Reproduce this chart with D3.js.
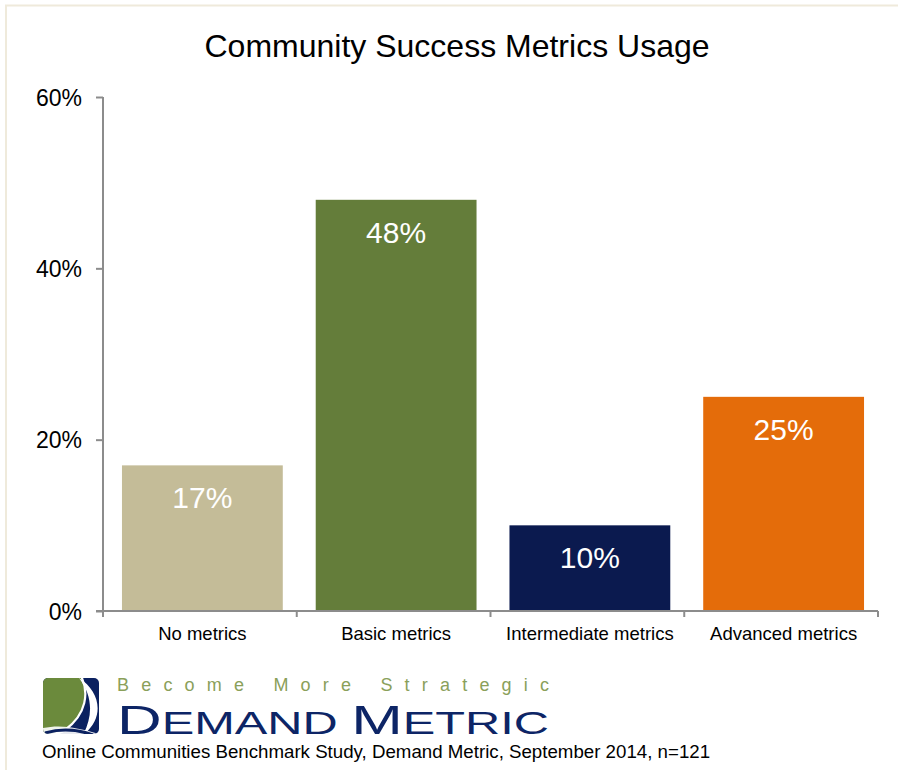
<!DOCTYPE html>
<html>
<head>
<meta charset="utf-8">
<script src="https://cdn.jsdelivr.net/npm/d3@7"></script>
<style>
  html, body { margin: 0; padding: 0; background: #ffffff; }
  svg { display: block; }
  text { font-family: "Liberation Sans", Arial, sans-serif; }
</style>
</head>
<body>
<script>
// Chart data
const categories = ["No metrics", "Basic metrics", "Intermediate metrics", "Advanced metrics"];
const values = [17, 48, 10, 25];
const barColors = ["#c4bc98", "#647d3a", "#0b1a4f", "#e46c0a"];
const yTicks = [0, 20, 40, 60];
const title = "Community Success Metrics Usage";
const tagline = "Become More Strategic";
const sourceNote = "Online Communities Benchmark Study, Demand Metric, September 2014, n=121";

const W = 898, H = 770;
const svg = d3.select("body").append("svg").attr("width", W).attr("height", H);

// Slide frame
svg.append("rect").attr("x", 6).attr("y", 5.5).attr("width", W).attr("height", H)
  .attr("fill", "none").attr("stroke", "#efeadb").attr("stroke-width", 2);

// Plot area
const plot = { left: 103, right: 878, top: 97, bottom: 611 };

// Bars sit slightly right of the band centre
const x = d3.scaleBand().domain(categories).range([plot.left + 2.5, plot.right + 2.5])
  .paddingInner(0.17).paddingOuter(0.085);
const y = d3.scaleLinear().domain([0, 60]).range([plot.bottom, plot.top]);

// Title
svg.append("text").attr("x", 457).attr("y", 57).attr("text-anchor", "middle")
  .attr("font-size", 32).attr("fill", "#000").text(title);

// Bars
svg.append("g").selectAll("rect").data(values).join("rect")
  .attr("x", (d, i) => x(categories[i]))
  .attr("y", d => y(d))
  .attr("width", x.bandwidth())
  .attr("height", d => y(0) - y(d))
  .attr("fill", (d, i) => barColors[i]);

// Value labels inside bars
svg.append("g").selectAll("text").data(values).join("text")
  .attr("x", (d, i) => x(categories[i]) + x.bandwidth() / 2)
  .attr("y", d => y(d) + 43)
  .attr("text-anchor", "middle")
  .attr("font-size", 30).attr("fill", "#ffffff")
  .text(d => d + "%");

// Y axis
const yAxis = d3.axisLeft(y).tickValues(yTicks).tickSize(7).tickPadding(14)
  .tickFormat(d => d + "%");
const gy = svg.append("g").attr("transform", `translate(${plot.left},0)`).call(yAxis);
gy.select(".domain").attr("stroke", "#8c8c8c").attr("stroke-width", 2)
  .attr("d", `M0,${plot.top}V${plot.bottom + 1}`);
gy.selectAll(".tick line").attr("stroke", "#8c8c8c").attr("stroke-width", 2);
gy.selectAll(".tick text").attr("font-size", 23).attr("fill", "#000")
  .attr("font-family", "'Liberation Sans', Arial, sans-serif").attr("dy", "0.36em");

// X axis with tick marks at category boundaries
const gx = svg.append("g").attr("transform", `translate(0,${plot.bottom})`);
gx.append("path").attr("d", `M${plot.left - 7},0H${plot.right}`)
  .attr("stroke", "#8c8c8c").attr("stroke-width", 2).attr("fill", "none");
const boundaries = d3.range(categories.length + 1).map(i => plot.left + i * (plot.right - plot.left) / categories.length);
gx.selectAll("line.bound").data(boundaries).join("line").attr("class", "bound")
  .attr("x1", d => d).attr("x2", d => d).attr("y1", 0).attr("y2", 6)
  .attr("stroke", "#8c8c8c").attr("stroke-width", 2);
gx.selectAll("text").data(categories).join("text")
  .attr("x", d => x(d) + x.bandwidth() / 2)
  .attr("y", 29)
  .attr("text-anchor", "middle").attr("font-size", 18.5).attr("fill", "#000")
  .text(d => d);

// Logo mark
const logo = svg.append("g").attr("transform", "translate(43,678)");
const defs = svg.append("defs");
defs.append("clipPath").attr("id", "logoClip").append("rect")
  .attr("width", 56).attr("height", 56).attr("rx", 5);
const lg = logo.append("g").attr("clip-path", "url(#logoClip)");
lg.append("rect").attr("width", 56).attr("height", 56).attr("fill", "#0b2160");
lg.append("path").attr("d", "M-2,-2 L38,-2 C46,14 44,36 22,52 C14,57 6,58 -2,58 Z").attr("fill", "#6b8a3c");
lg.append("path").attr("d", "M38,-2 C46,14 44,36 22,52 C14,57 6,58 -2,58")
  .attr("fill", "none").attr("stroke", "#ffffff").attr("stroke-width", 2.2);
lg.append("path").attr("d", "M36,0 C58,14 62,40 40,57 C50,38 50,18 36,0 Z").attr("fill", "#ffffff");
lg.append("path").attr("d", "M0,50 C18,46 36,50 56,56 L0,58 Z").attr("fill", "#ffffff").attr("opacity", 0.9);
lg.append("path").attr("d", "M2,55 C20,50 36,52 50,57")
  .attr("fill", "none").attr("stroke", "#0b2160").attr("stroke-width", 3);

// Tagline and wordmark
svg.append("text").attr("x", 117).attr("y", 691)
  .attr("font-size", 18).attr("fill", "#8aa05a")
  .attr("textLength", 432).attr("lengthAdjust", "spacing")
  .text(tagline);

const wm = svg.append("text").attr("x", 117).attr("y", 734)
  .attr("fill", "#0d2566").attr("font-family", "'DejaVu Sans', sans-serif")
  .attr("textLength", 432).attr("lengthAdjust", "spacingAndGlyphs");
[["D", 40], ["EMAND ", 31.5], ["M", 40], ["ETRIC", 31.5]].forEach(([t, s]) => {
  wm.append("tspan").attr("font-size", s).text(t);
});

// Source note
svg.append("text").attr("x", 42).attr("y", 758)
  .attr("font-size", 18.7).attr("fill", "#000").text(sourceNote);
</script>
</body>
</html>
